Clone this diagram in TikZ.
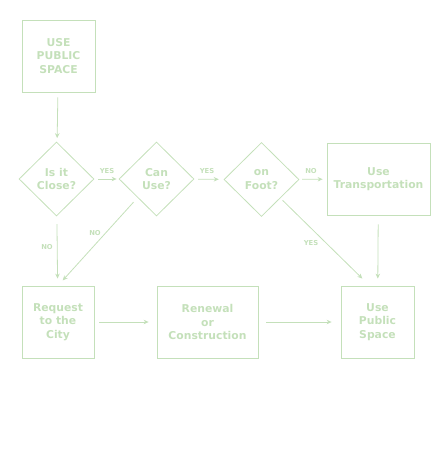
\documentclass[tikz,border=0pt]{standalone}
\usepackage{fontspec}
\setmainfont{DejaVu Sans}
\usetikzlibrary{shapes.geometric,arrows.meta,calc}
\definecolor{lg}{RGB}{196,224,186}
\begin{document}
\begin{tikzpicture}[x=1pt,y=-1pt,
  every node/.style={text=lg,font=\bfseries\fontsize{10.8}{13.3}\selectfont,align=center},
  box/.style={draw=lg,line width=0.8pt,inner sep=0pt},
  dia/.style={draw=lg,line width=0.8pt,diamond,inner sep=0pt,minimum width=75pt,minimum height=74pt},
  arr/.style={draw=lg,line width=0.8pt,-{Stealth[length=5pt,width=4.5pt]}},
  lab/.style={text=lg,font=\bfseries\fontsize{6.8}{8}\selectfont}]
\useasboundingbox (0,0) rectangle (434,450);
\node[box,minimum width=73pt,minimum height=72pt] (top) at (58.5,56) {USE\\PUBLIC\\SPACE};
\node[dia] (d1) at (56.5,179) {Is it\\Close?};
\node[dia] (d2) at (156.5,179) {Can\\Use?};
\node[dia] (d3) at (261.5,179.5) {on\\Foot?};
\node[box,minimum width=103pt,minimum height=72pt] (tr) at (378.5,179) {Use\\Transportation};
\node[box,minimum width=72pt,minimum height=72pt] (req) at (58,322) {Request\\to the\\City};
\node[box,minimum width=101pt,minimum height=72pt] (ren) at (207.5,322) {Renewal\\or\\Construction};
\node[box,minimum width=73pt,minimum height=72pt] (ups) at (377.5,322) {Use\\Public\\Space};
\draw[arr,shorten <=5pt,shorten >=4pt] (top) -- (d1);
\draw[arr,shorten <=4pt,shorten >=2pt] (d1) -- (d2);
\draw[arr,shorten <=4pt,shorten >=5pt] (d2) -- (d3);
\draw[arr,shorten <=3pt,shorten >=4pt] (d3) -- (tr);
\draw[arr,shorten <=8pt,shorten >=7pt] (d1) -- (req);
\draw[arr,shorten <=6pt,shorten >=7pt] (d2.south west) -- (req.north);
\draw[arr,shorten <=3pt,shorten >=10pt] (d3.south east) -- ($(ups.north)+(-8,0)$);
\draw[arr,shorten <=9pt,shorten >=7pt] (tr) -- (ups);
\draw[arr,shorten <=5pt,shorten >=8pt] (req) -- (ren);
\draw[arr,shorten <=8pt,shorten >=9pt] (ren) -- (ups);
\node[lab] (l1) at (107,171) {YES};
\node[lab] (l2) at (207,171) {YES};
\node[lab] (l3) at (311,171) {NO};
\node[lab] (l4) at (47,247) {NO};
\node[lab] (l5) at (95,233) {NO};
\node[lab] (l6) at (311,243) {YES};
\end{tikzpicture}
\end{document}
